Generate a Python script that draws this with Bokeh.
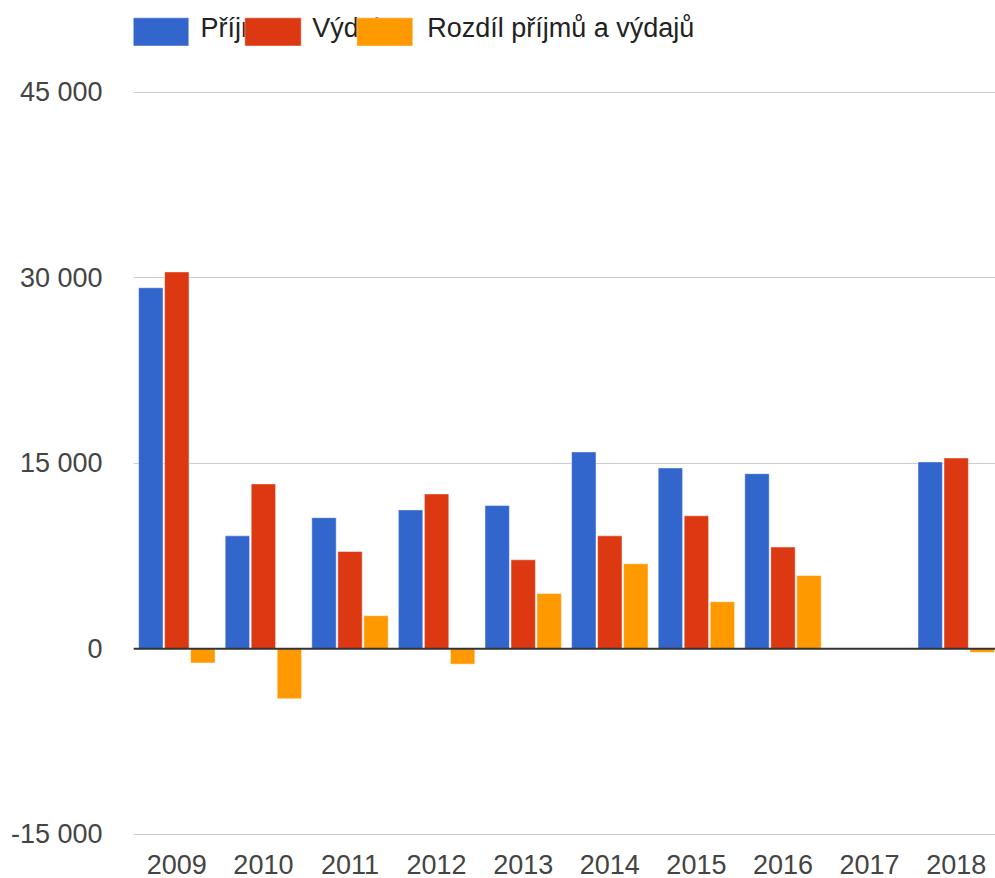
from bokeh.plotting import figure
from bokeh.models import ColumnDataSource, Range1d, FixedTicker, Span, BoxAnnotation, Label
from bokeh.transform import dodge
from bokeh.embed import file_html
from bokeh.resources import INLINE

# ---- data ----
years = ["2009", "2010", "2011", "2012", "2013", "2014", "2015", "2016", "2017", "2018"]
prijmy = [29200, 9130, 10600, 11230, 11580, 15920, 14620, 14160, 40, 15110]
vydaje = [30480, 13330, 7860, 12520, 7190, 9130, 10750, 8220, 40, 15430]
rozdil = [-1150, -4050, 2670, -1250, 4470, 6870, 3800, 5920, 0, -300]
series_names = ["Příjmy", "Výdaje", "Rozdíl příjmů a výdajů"]
colors = ["#3366cc", "#dc3912", "#ff9900"]
y_ticks = [-15000, 0, 15000, 30000, 45000]
y_tick_labels = ["-15 000", "0", "15 000", "30 000", "45 000"]

# ---- layout constants (page pixels; the figure sits at the page origin) ----
W, H = 995, 878
FRAME_LEFT_PX = 133.0
PITCH_PX = 86.6
ZERO_PX = 648.2
UNITS_PER_PX = 80.9
BORDER_BOTTOM = 38
frame_bottom_px = H - BORDER_BOTTOM

x_end = (W - FRAME_LEFT_PX) / PITCH_PX
y_end = ZERO_PX * UNITS_PER_PX
y_start = -(frame_bottom_px - ZERO_PX) * UNITS_PER_PX

def dx(px):
    return (px - FRAME_LEFT_PX) / PITCH_PX

def dy(py):
    return (ZERO_PX - py) * UNITS_PER_PX

x_pos = [i + 0.5 for i in range(len(years))]
source = ColumnDataSource(dict(x=x_pos, year=years, prijmy=prijmy, vydaje=vydaje, rozdil=rozdil))

p = figure(width=W, height=H, output_backend="svg", toolbar_location=None,
           x_range=Range1d(0, x_end), y_range=Range1d(y_start, y_end),
           min_border_left=int(FRAME_LEFT_PX), min_border_right=0,
           min_border_top=0, min_border_bottom=BORDER_BOTTOM)
p.outline_line_color = None
p.background_fill_color = "white"
p.border_fill_color = "white"

bar_w = 24.4 / PITCH_PX
off = 26.0 / PITCH_PX
for col, c, o in zip(["prijmy", "vydaje", "rozdil"], colors, [-off, 0.0, off]):
    p.vbar(x=dodge("x", o, range=p.x_range), top=col, bottom=0, width=bar_w, source=source,
           fill_color=c, line_color="white", line_alpha=0.45, line_width=1)

# zero baseline
p.add_layout(Span(location=0, dimension="width", line_color="#333333", line_width=2))

# axes
p.xgrid.grid_line_color = None
p.ygrid.grid_line_color = "#cccccc"
p.ygrid.grid_line_width = 1
p.yaxis.ticker = FixedTicker(ticks=y_ticks)
p.yaxis.major_label_overrides = {t: l for t, l in zip(y_ticks, y_tick_labels)}
p.xaxis.ticker = FixedTicker(ticks=x_pos)
p.xaxis.major_label_overrides = {x: y for x, y in zip(x_pos, years)}
for ax in (p.xaxis, p.yaxis):
    ax.axis_line_color = None
    ax.major_tick_line_color = None
    ax.minor_tick_line_color = None
    ax.major_tick_out = 0
    ax.major_tick_in = 0
    ax.minor_tick_out = 0
    ax.major_label_text_font = "Liberation Sans"
    ax.major_label_text_font_size = "27px"
    ax.major_label_text_color = "#444444"
p.yaxis.major_label_standoff = 31
p.xaxis.major_label_standoff = 14
p.xaxis.major_label_text_line_height = 0.8

# legend (overlapping entries, as in the original)
leg_boxes = [(132.3, 188.3), (244.3, 300.7), (356.3, 412.3)]
leg_text_x = [200, 311.7, 426.7]
for i in range(3):
    p.add_layout(Label(x=dx(leg_text_x[i]), y=dy(27.5), text=series_names[i],
                       text_font="Liberation Sans", text_font_size="27px",
                       text_color="#222222", text_baseline="middle", text_align="left"))
    l, r = leg_boxes[i]
    p.add_layout(BoxAnnotation(left=dx(l), right=dx(r), top=dy(17.3), bottom=dy(45.5),
                               fill_color=colors[i], fill_alpha=1.0,
                               line_color="white", line_alpha=0.45, line_width=1))

open("out.html", "w").write(file_html(p, INLINE))
